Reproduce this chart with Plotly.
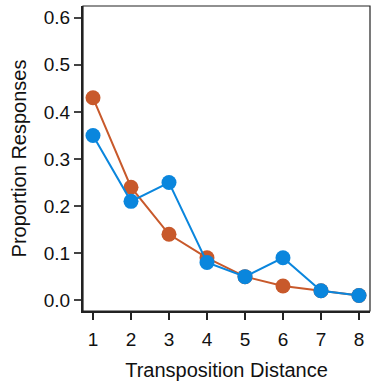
import plotly.graph_objects as go

distance = [1, 2, 3, 4, 5, 6, 7, 8]
orange_vals = [0.43, 0.24, 0.14, 0.09, 0.05, 0.03, 0.02, 0.01]
blue_vals = [0.35, 0.21, 0.25, 0.08, 0.05, 0.09, 0.02, 0.01]
y_ticks = [0.0, 0.1, 0.2, 0.3, 0.4, 0.5, 0.6]

fig = go.Figure()
fig.add_trace(go.Scatter(x=distance, y=orange_vals, mode="lines+markers",
                         line=dict(color="#C8592B", width=2),
                         marker=dict(color="#C8592B", size=15), showlegend=False))
fig.add_trace(go.Scatter(x=distance, y=blue_vals, mode="lines+markers",
                         line=dict(color="#0A86DD", width=2),
                         marker=dict(color="#0A86DD", size=15), showlegend=False))

font = dict(family="Liberation Sans, Arial, Helvetica, sans-serif", size=17, color="#111")
tickfont = dict(family="Liberation Sans, Arial, Helvetica, sans-serif", size=19, color="#111")
fig.update_layout(
    width=374, height=382,
    margin=dict(l=83, r=4, t=6, b=67),
    paper_bgcolor="white", plot_bgcolor="white",
    font=font,
    xaxis=dict(range=[0.737, 8.29], tickvals=distance, showgrid=False, zeroline=False,
               showline=True, linecolor="#222", linewidth=2, tickfont=tickfont,
               ticks="outside", ticklen=7, tickwidth=1.5, tickcolor="#222",
               ticklabelstandoff=3,
               title=dict(text="Transposition Distance", standoff=14)),
    yaxis=dict(range=[-0.023, 0.625], tickvals=y_ticks, tickformat=".1f",
               showgrid=False, zeroline=False, tickfont=tickfont,
               showline=True, linecolor="#222", linewidth=2,
               ticks="outside", ticklen=7, tickwidth=1.5, tickcolor="#444",
               title=dict(text="Proportion Responses", standoff=12)),
)
fig.add_shape(type="rect", xref="paper", yref="paper", x0=0, y0=0, x1=1, y1=1,
              line=dict(color="#222", width=1.2))
fig.write_html("out.html", config={"displayModeBar": False},
               post_script="document.body.style.margin='0';")
